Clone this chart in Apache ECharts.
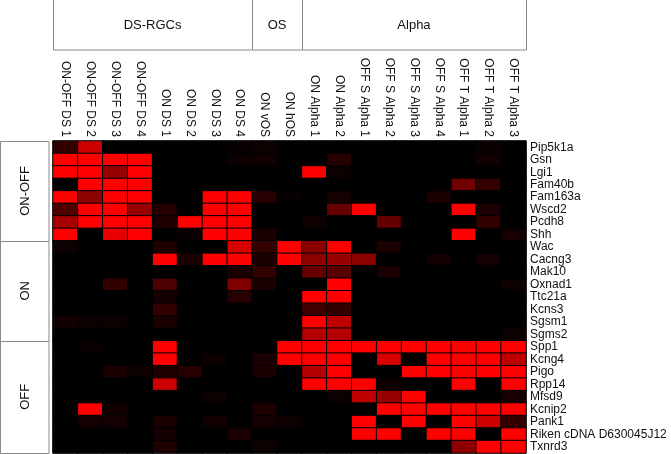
<!DOCTYPE html>
<html>
<head>
<meta charset="utf-8">
<script src="https://cdn.jsdelivr.net/npm/echarts@6/dist/echarts.min.js"></script>
<style>
html,body{margin:0;padding:0;background:#fff;}
#chart{width:671px;height:454px;}
</style>
</head>
<body>
<div id="chart"></div>
<script>
const cellTypes = ['ON-OFF DS 1','ON-OFF DS 2','ON-OFF DS 3','ON-OFF DS 4','ON DS 1','ON DS 2','ON DS 3','ON DS 4','ON vOS','ON hOS','ON Alpha 1','ON Alpha 2','OFF S Alpha 1','OFF S Alpha 2','OFF S Alpha 3','OFF S Alpha 4','OFF T Alpha 1','OFF T Alpha 2','OFF T Alpha 3'];
const genes = ['Pip5k1a','Gsn','Lgi1','Fam40b','Fam163a','Wscd2','Pcdh8','Shh','Wac','Cacng3','Mak10','Oxnad1','Ttc21a','Kcns3','Sgsm1','Sgms2','Spp1','Kcng4','Pigo','Rpp14','Mfsd9','Kcnip2','Pank1','Riken cDNA D630045J12','Txnrd3'];
const columnGroups = [['DS-RGCs', 8], ['OS', 2], ['Alpha', 9]];
const rowGroups = [['ON-OFF', 8], ['ON', 8], ['OFF', 9]];

// relative expression (0 = black, 1 = red), one row per gene
const onOffRows = [
  [0.2,0.8,0,0,0,0,0,0.03,0.05,0,0,0,0,0,0,0,0,0.04,0],
  [1,1,1,1,0,0,0,0.05,0.07,0,0,0.15,0,0,0,0,0,0.07,0],
  [1,1,0.6,1,0,0,0,0,0,0,1,0.05,0,0,0,0,0,0,0],
  [0,1,1,1,0,0,0,0,0,0,0,0,0,0,0,0,0.45,0.2,0],
  [1,0.55,1,1,0,0,1,1,0.15,0.03,0,0.08,0,0,0,0.1,0,0,0],
  [0.3,1,1,0.6,0.15,0,1,1,0,0,0,0.4,1,0,0,0,1,0.1,0],
  [0.65,1,1,1,0.12,1,1,1,0,0,0.06,0,0,0.4,0,0,0,0.2,0],
  [1,0,0.9,1,0,0.03,1,1,0.1,0,0,0,0,0,0,0,1,0,0.08]
];
const onRows = [
  [0.05,0,0,0,0.12,0,0,0.85,0.2,1,0.55,1,0,0.1,0,0,0,0,0],
  [0,0,0,0,1,0.1,1,1,0.1,1,0.55,0.6,0.55,0,0,0.07,0,0.08,0],
  [0,0,0,0,0,0,0,0.1,0.2,0,0.4,0.35,0,0.1,0,0,0,0,0],
  [0,0,0.2,0,0.3,0,0,0.5,0.1,0,0,1,0,0,0,0,0,0,0.05],
  [0,0,0,0,0.08,0,0,0.15,0,0,1,1,0,0,0,0,0,0,0],
  [0,0,0,0,0.2,0,0,0,0,0,0.25,0.2,0,0,0,0,0,0,0],
  [0.08,0.05,0.05,0,0.1,0,0,0,0,0,1,0.75,0,0,0,0,0,0,0],
  [0,0,0,0,0,0,0,0,0,0,0.7,0.7,0,0,0,0,0,0,0.05]
];
const offRows = [
  [0,0.03,0,0,1,0,0,0,0,1,1,1,1,1,1,1,1,1,1],
  [0,0,0,0,1,0,0.05,0,0.1,1,1,1,0,0.85,0,1,1,1,0.75],
  [0,0,0.1,0.05,0.12,0.15,0,0,0.1,0,0.7,1,0,0,1,1,1,1,1],
  [0,0,0,0,0.8,0,0,0,0,0,1,1,1,0.05,0,0,1,0,1],
  [0,0,0,0,0,0,0.05,0,0,0,0,0.05,0.75,0.6,1,0,0,0,0.08],
  [0,1,0.07,0,0,0,0,0,0.12,0,0,0,0,1,1,1,1,1,1],
  [0,0.08,0.08,0,0.1,0,0.07,0,0.08,0.05,0,0,1,0,1,0,1,0.8,0.2],
  [0,0,0,0,0.08,0,0,0.1,0,0,0,0,1,1,0,1,1,0,1],
  [0,0,0,0,0.12,0,0,0,0.05,0,0,0,0,0,0,0,0.55,1,1]
];

const allRows = onOffRows.concat(onRows, offRows);
const data = [];
allRows.forEach((row, r) => row.forEach((v, c) => data.push([c, r, v])));

const chart = echarts.init(document.getElementById('chart'));
const FONT = 'Liberation Sans, Arial, sans-serif';
const gridLeft = 53, gridRight = 526, gridTop = 141, gridBottom = 453;
const colW = (gridRight - gridLeft) / cellTypes.length;
const rowH = (gridBottom - gridTop) / genes.length;

const graphics = [];
// header group boxes
let cx = gridLeft;
columnGroups.forEach(([name, n]) => {
  const w = n * colW;
  graphics.push({type:'rect', shape:{x:Math.round(cx)+0.5, y:-0.5, width:Math.round(w), height:50.5},
    style:{fill:'none', stroke:'#8a8a8a', lineWidth:1}});
  graphics.push({type:'text', x:cx + w/2, y:25, style:{text:name, font:'13px ' + FONT, fill:'#111', align:'center', verticalAlign:'middle'}});
  cx += w;
});
// left row group boxes
let cy = gridTop;
rowGroups.forEach(([name, n]) => {
  const h = n * rowH;
  graphics.push({type:'rect', shape:{x:0.5, y:Math.round(cy)+0.5, width:48.5, height:Math.round(h)},
    style:{fill:'none', stroke:'#8a8a8a', lineWidth:1}});
  graphics.push({type:'text', x:25, y:cy + h/2, rotation:Math.PI/2,
    style:{text:name, font:'13px ' + FONT, fill:'#111', align:'center', verticalAlign:'middle'}});
  cy += h;
});

chart.setOption({
  backgroundColor:'#fff',
  animation:false,
  grid:{left:gridLeft, right:671-gridRight, top:gridTop, bottom:454-gridBottom, show:true, backgroundColor:'#000', borderColor:'#aaa', borderWidth:1},
  xAxis:{type:'category', position:'top', data:cellTypes, splitArea:{show:false},
    axisLine:{show:false}, axisTick:{show:false},
    axisLabel:{rotate:90, interval:0, margin:4, fontSize:12, color:'#111', fontFamily:FONT}},
  yAxis:{type:'category', position:'right', inverse:true, data:genes,
    axisLine:{show:false}, axisTick:{show:false},
    axisLabel:{interval:0, margin:4, fontSize:12, color:'#111', fontFamily:FONT}},
  visualMap:{show:false, min:0, max:1, dimension:2, inRange:{color:['#000000','#ff0000']}},
  series:[{type:'heatmap', data:data, itemStyle:{borderColor:'#000', borderWidth:1}, emphasis:{disabled:true}}],
  graphic:graphics
});
</script>
</body>
</html>
